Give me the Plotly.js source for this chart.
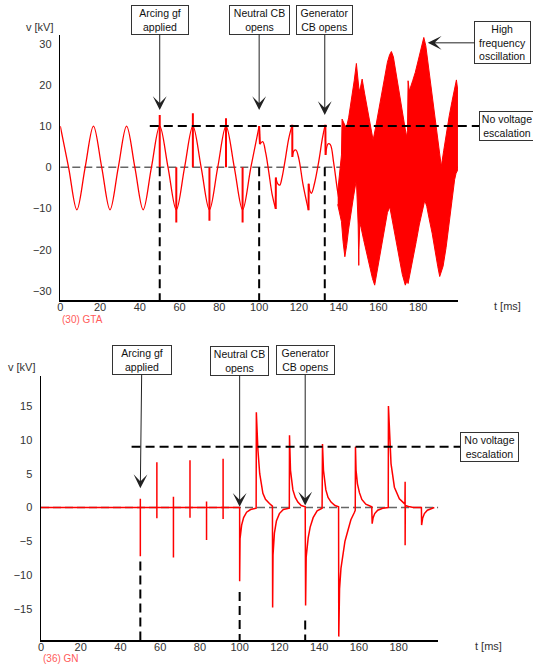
<!DOCTYPE html>
<html><head><meta charset="utf-8">
<script src="https://cdn.plot.ly/plotly-3.0.1.min.js"></script>
<style>html,body{margin:0;padding:0;background:#fff}#chart{width:533px;height:665px}</style>
</head><body><div id="chart"></div>
<script>
// ===== Top chart: (30) GTA =====
// main waveform (segments separated by null)
const topWaveT = [0,4.17,8.33,12.5,16.67,20.83,25,29.17,33.33,37.5,41.67,45.83,50,54.17,58.33,62.5,66.67,70.83,75,79.17,83.33,87.5,91.67,95.83,100,
  null,100.4,101.8,103.3,104.8,106.5,108.3,
  null,108.4,109.4,110.4,111.5,113,114.8,116.6,
  null,116.7,117.5,118.5,120,122,124.8,
  null,124.9,125.6,126.3,127.8,130,131.8,133.2,
  null,133.4,134.7,135.8,137.5,139.5,141];
const topWaveV = [10,0,-10.3,0,10,0,-10.3,0,10,0,-10.3,0,10,0,-10.3,0,10,0,-10.3,0,10,0,-10.3,0,10,
  null,5.6,6.2,3.5,-1,-6.5,-10.1,
  null,-2.5,-4.0,-4.3,-2.5,1.5,6.8,10.3,
  null,2.5,4.0,4.2,2,-4,-10.4,
  null,-4,-5.8,-6.3,-4,1.5,7,10.3,
  null,3,5.7,5.5,1,-6,-10];
// spikes (vertical jumps)
const topSpikeT = [50,50,null,58.33,58.33,null,66.67,66.67,null,75,75,null,83.33,83.33,null,91.67,91.67,null,
  100,100.4,null,108.35,108.4,null,116.65,116.7,null,124.85,124.9,null,133.3,133.4];
const topSpikeV = [0,12.7,null,0,-13.4,null,0,13.1,null,0,-13.0,null,0,11.9,null,0,-13.4,null,
  10,5.6,null,-10.1,-2.5,null,10.3,2.5,null,-10.4,-4,null,10.3,3];
// high-frequency oscillation envelope (upper: left->right, lower: right->left)
const hfUpperT = [139.5,141.4,141.7,142.4,143.1,143.8,145,146.5,147.8,148.9,149.6,150.3,151,151.8,153,154.5,156,157.3,158.5,160,161.5,163,164.5,165.6,166.5,167.5,169,170.5,172,173.3,174.1,174.6,174.9,175.5,176.3,177.2,178.5,180,181.5,182.8,183.8,185,186.2,187.4,188.6,189.8,190.8,191.6,192.8,194.2,195.6,197,198.2,199.2,199.8];
const hfUpperV = [-6,3,11.7,11,9.9,9.5,12,16.5,21,25.2,22.5,18.4,19.5,21.4,18,14,10,6.6,9.5,13.5,18,22,25.5,27.3,28.1,26.8,22.5,18,13.5,10,7.4,9,21,18.5,19.5,21,23,26,29,31.5,29.5,25,21,17,12.5,8,3.5,0.2,4,8.5,12.5,16,19,21.2,19];
const hfLowerT = [199.8,199,198.3,197,195.5,194,192.5,191.4,190.8,189.8,188.5,187,185.5,184.3,183.3,182,180.5,179,177.5,176,175.2,174.9,174.4,173.5,172,170.5,169,167.5,166.3,165.7,164.5,163,161.5,160,158.8,158.1,157,155.5,154,152.5,151.2,150.6,150.2,150.1,149.8,148.9,147.5,146.2,145,144,143.1,142.2,141.4,139.5];
const hfLowerV = [-0.7,-1.5,-3,-8,-14,-19.5,-24,-26,-26.5,-24,-20,-16,-12.5,-9.5,-8,-10.5,-14,-18,-22,-25.5,-27.5,-28.2,-27.5,-28.6,-26,-22,-18,-14,-10.5,-9.6,-11,-15,-19,-23,-26.5,-28.6,-27,-24,-21,-17.5,-14.5,-13.6,-20,-23.8,-14,-3,-7,-11,-15,-19,-21.7,-18,-13.2,-9];
const xTicks = [0,20,40,60,80,100,120,140,160,180];
const topYTicks = [-30,-20,-10,0,10,20,30];

// ===== Bottom chart: (36) GN =====
const botT = [0,50,50,50,50,58.33,58.33,58.33,58.33,66.67,66.67,66.67,66.67,75,75,75,75,83.33,83.33,83.33,83.33,91.67,91.67,91.67,91.67,
  100,100,100.2,101,102,103.5,105.5,108.3,
  108.4,109.2,110.1,111.7,113,115,116.5,
  116.6,116.8,117.5,118.5,120,122,125,
  125.1,125.6,126.8,128,129.3,131,133,
  133.2,133.5,134.5,135.5,137,139,141.5,
  141.7,142.2,143.4,144.5,146,148,149.8,
  149.9,150.3,151,151.9,153,154.5,156,157.8,158.2,
  158.3,158.6,159.3,160.3,161.5,163.5,166.5,
  166.7,167.2,168,169.5,172,174.8,
  174.9,176.2,177.9,180.4,182,183.2,
  183.3,183.3,183.4,185,187.5,191.5,
  191.6,192.1,193,194.5,196.5,198];
const botV = [0,0,1.3,-7.2,0,0,6.7,-1.6,0,0,1.6,-7.4,0,0,7.0,-1.5,0,0,0.9,-4.8,0,0,7.2,-1.7,0,
  0,-10.9,-4.6,-2.6,-1.5,-0.7,-0.3,-0.1,
  14.1,8.5,5.0,2.1,1.2,0.6,0.2,
  -14.8,-7,-3.8,-2,-0.9,-0.3,-0.1,
  10.7,5.5,2.6,1.5,0.8,0.3,0.1,
  -14.5,-7.3,-4.5,-2.9,-1.5,-0.5,-0.1,
  9.4,5.5,2.6,1.5,0.8,0.3,0.1,
  -19.1,-12,-9,-7.3,-5,-3.4,-1.8,-0.7,-0.4,
  9.0,5.5,3.5,2.2,1.2,0.5,0.1,
  -2.4,-1.5,-0.9,-0.4,-0.1,0,
  15.0,6.5,3.0,1.3,0.9,0.5,
  3.8,-5.6,0.3,0.15,0,0,
  -2.6,-1.6,-0.9,-0.4,-0.1,0];
const botYTicks = [-15,-10,-5,0,5,10,15];

// ===== layout geometry =====
const W = 533, H = 665;
const X1 = [60.3/W, 458/W], Y1 = [1-300/H, 1-35/H];
const X2 = [41/W, 438.3/W], Y2 = [1-640/H, 1-375.7/H];
const R1 = [-32.2, 32.1], R2 = [-19.6, 19.5];
const px1 = t => X1[0] + t/200*(X1[1]-X1[0]);
const px2 = t => X2[0] + t/200*(X2[1]-X2[0]);

const RED = '#ff0000';
const traces = [
  {x: topWaveT, y: topWaveV, xaxis:'x', yaxis:'y', mode:'lines', line:{color:RED, width:1.3, shape:'spline'}, connectgaps:false, hoverinfo:'skip'},
  {x: topSpikeT, y: topSpikeV, xaxis:'x', yaxis:'y', mode:'lines', line:{color:RED, width:2}, connectgaps:false, hoverinfo:'skip'},
  {x: hfUpperT.concat(hfLowerT), y: hfUpperV.concat(hfLowerV), xaxis:'x', yaxis:'y', mode:'lines', fill:'toself', fillcolor:RED, line:{color:RED, width:1}, hoverinfo:'skip'},
  {x: botT, y: botV, xaxis:'x2', yaxis:'y2', mode:'lines', line:{color:RED, width:1.5}, hoverinfo:'skip'}
];

const tickFont = {family:'Liberation Sans, Arial, sans-serif', size:11, color:'#333'};
const axBase = {showline:true, linecolor:'#000', linewidth:1.5, showgrid:false, zeroline:false, ticks:'', tickfont:tickFont, fixedrange:true};
const boxFont = {family:'Liberation Sans, Arial, sans-serif', size:10.5, color:'#111'};
const arrowBox = {showarrow:true, arrowhead:3, arrowsize:2.3, arrowwidth:1, arrowcolor:'#222', bordercolor:'#333', borderwidth:1, borderpad:1, bgcolor:'#fff', font:boxFont};
const plainBox = {showarrow:false, bordercolor:'#333', borderwidth:1, borderpad:1, bgcolor:'#fff', font:boxFont};
const lblFont = {family:'Liberation Sans Narrow, Liberation Sans, Arial, sans-serif', size:11, color:'#333'};
const tagFont = {family:'Liberation Sans Narrow, Liberation Sans, Arial, sans-serif', size:10, color:'#ff5a5a'};
const txt = (text, x, y, font, xanchor) => ({text, x:x/W, y:1-y/H, xref:'paper', yref:'paper', xanchor:xanchor||'center', yanchor:'middle', showarrow:false, font});

const annotations = [
  // top
  Object.assign({text:'Arcing gf<br>applied', x:50, y:13.9, xref:'x', yref:'y', ax:0, ay:-90, width:54}, arrowBox),
  Object.assign({text:'Neutral CB<br>opens', x:100, y:13.9, xref:'x', yref:'y', ax:0, ay:-90, width:57}, arrowBox),
  Object.assign({text:'Generator<br>CB opens', x:133, y:12.7, xref:'x', yref:'y', ax:0, ay:-95, width:53}, arrowBox),
  Object.assign({text:'High<br>frequency<br>oscillation', x:184.8, y:30.2, xref:'x', yref:'y', ax:75, ay:0, width:53}, arrowBox),
  Object.assign({text:'No voltage<br>escalation', x:479/W, y:10, xref:'paper', yref:'y', xanchor:'left', yanchor:'middle', width:52}, plainBox),
  txt('v [kV]', 40, 27.5, lblFont),
  txt('t [ms]', 507, 306, lblFont),
  txt('(30) GTA', 60, 319, tagFont, 'left'),
  // bottom
  Object.assign({text:'Arcing gf<br>applied', x:50, y:2.85, xref:'x2', yref:'y2', ax:1.5, ay:-128, width:56}, arrowBox),
  Object.assign({text:'Neutral CB<br>opens', x:100, y:0.1, xref:'x2', yref:'y2', ax:0, ay:-146, width:55}, arrowBox),
  Object.assign({text:'Generator<br>CB opens', x:133, y:0.3, xref:'x2', yref:'y2', ax:0, ay:-145, width:55}, arrowBox),
  Object.assign({text:'No voltage<br>escalation', x:460/W, y:9, xref:'paper', yref:'y2', xanchor:'left', yanchor:'middle', width:55}, plainBox),
  txt('v [kV]', 21.5, 367, lblFont),
  txt('t [ms]', 488, 645.7, lblFont),
  txt('(36) GN', 41, 658.5, tagFont, 'left')
];

const blackDash = {color:'#000', width:2, dash:'9px,5px'};
const greyDash = {color:'#666', width:1.5, dash:'8px,4px'};
const shapes = [
  // top
  {type:'line', layer:'below', xref:'x', yref:'y', x0:0, x1:200, y0:0, y1:0, line:greyDash},
  {type:'line', xref:'paper', yref:'y', x0:px1(45), x1:479/W, y0:10, y1:10, line:blackDash},
  {type:'line', xref:'x', yref:'y', x0:50, x1:50, y0:0, y1:R1[0], line:blackDash},
  {type:'line', xref:'x', yref:'y', x0:100, x1:100, y0:0, y1:R1[0], line:blackDash},
  {type:'line', xref:'x', yref:'y', x0:133, x1:133, y0:0, y1:R1[0], line:blackDash},
  // bottom
  {type:'line', layer:'below', xref:'x2', yref:'y2', x0:0, x1:200, y0:0, y1:0, line:greyDash},
  {type:'line', xref:'paper', yref:'y2', x0:px2(45.6), x1:460/W, y0:9, y1:9, line:blackDash},
  {type:'line', xref:'x2', yref:'y2', x0:50, x1:50, y0:-8, y1:R2[0], line:blackDash},
  {type:'line', xref:'x2', yref:'y2', x0:100, x1:100, y0:-12.5, y1:R2[0], line:blackDash},
  {type:'line', xref:'x2', yref:'y2', x0:133, x1:133, y0:-16.7, y1:R2[0], line:blackDash}
];

const layout = {
  width: W, height: H, margin:{l:0,r:0,t:0,b:0},
  paper_bgcolor:'#fff', plot_bgcolor:'#fff', showlegend:false,
  xaxis: Object.assign({domain:X1, range:[0,200], anchor:'y', tickvals:xTicks, ticklabelstandoff:-4}, axBase),
  yaxis: Object.assign({domain:Y1, range:R1, anchor:'x', tickvals:topYTicks, ticklabelstandoff:5}, axBase),
  xaxis2: Object.assign({domain:X2, range:[0,200], anchor:'y2', tickvals:xTicks, ticklabelstandoff:-4}, axBase),
  yaxis2: Object.assign({domain:Y2, range:R2, anchor:'x2', tickvals:botYTicks, ticklabelstandoff:5}, axBase),
  annotations: annotations, shapes: shapes
};
Plotly.newPlot('chart', traces, layout, {displayModeBar:false, staticPlot:true});
</script></body></html>
